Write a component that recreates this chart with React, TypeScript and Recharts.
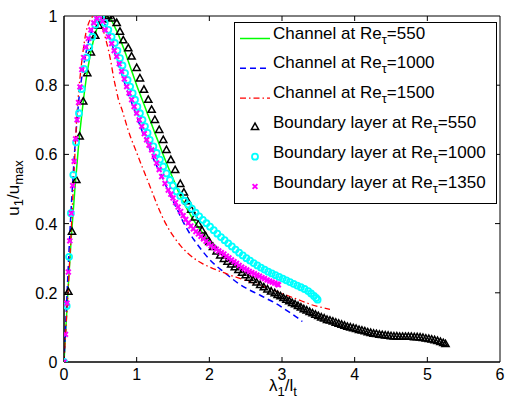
import React from 'react';
import {
  ComposedChart,
  Line,
  Scatter,
  XAxis,
  YAxis,
  ReferenceArea,
  Legend,
  Label,
} from 'recharts';

// MATLAB-ish look
const FONT = '"Liberation Sans", Arial, Helvetica, sans-serif';
const PLOT = { left: 64, right: 500, top: 16, bottom: 362 };

const xTicks = [0, 1, 2, 3, 4, 5, 6];
const xTickLabels = ['0', '1', '2', '3', '4', '5', '6'];
const yTicks = [0, 0.2, 0.4, 0.6, 0.8, 1];
const yTickLabels = ['0', '0.2', '0.4', '0.6', '0.8', '1'];

// channel flow curves (x = lambda1/lt, y = u1/umax)
const ch550: [number, number][] = [
  [0, 0], [0.05, 0.19], [0.1, 0.36], [0.15, 0.5], [0.2, 0.625], [0.25, 0.725], [0.3, 0.81],
  [0.35, 0.875], [0.4, 0.925], [0.45, 0.962], [0.5, 0.987], [0.55, 1.0], [0.6, 0.998],
  [0.65, 0.988], [0.7, 0.968], [0.75, 0.945], [0.8, 0.918], [0.85, 0.89], [0.9, 0.86],
  [0.95, 0.83], [1.0, 0.8], [1.05, 0.772], [1.1, 0.745], [1.15, 0.717], [1.2, 0.69],
  [1.25, 0.662], [1.3, 0.635], [1.35, 0.607], [1.4, 0.58], [1.5, 0.53], [1.6, 0.48],
  [1.7, 0.44], [1.8, 0.405], [1.9, 0.375], [2.0, 0.35], [2.1, 0.326], [2.2, 0.305],
  [2.3, 0.287], [2.4, 0.27],
];

const ch1000: [number, number][] = [
  [0, 0], [0.03, 0.14], [0.06, 0.28], [0.09, 0.41], [0.12, 0.52], [0.15, 0.62], [0.18, 0.7],
  [0.21, 0.77], [0.25, 0.83], [0.29, 0.88], [0.33, 0.92], [0.37, 0.95], [0.41, 0.975],
  [0.45, 0.99], [0.49, 1.0], [0.53, 0.993], [0.57, 0.972], [0.61, 0.948], [0.66, 0.918],
  [0.72, 0.878], [0.79, 0.835], [0.86, 0.79], [0.93, 0.75], [1.0, 0.71], [1.08, 0.665],
  [1.16, 0.627], [1.25, 0.578], [1.32, 0.548], [1.39, 0.515], [1.48, 0.474], [1.56, 0.44],
  [1.64, 0.405], [1.72, 0.375], [1.8, 0.35], [1.9, 0.322], [2.0, 0.297], [2.1, 0.277],
  [2.2, 0.26], [2.3, 0.243], [2.4, 0.227], [2.5, 0.214], [2.6, 0.203], [2.7, 0.193],
  [2.8, 0.182], [2.9, 0.171], [3.0, 0.158], [3.1, 0.144], [3.2, 0.13], [3.28, 0.117],
];

const ch1500: [number, number][] = [
  [0, 0], [0.03, 0.11], [0.06, 0.22], [0.09, 0.34], [0.12, 0.47], [0.15, 0.6], [0.18, 0.72],
  [0.21, 0.8], [0.24, 0.86], [0.27, 0.91], [0.3, 0.95], [0.34, 0.98], [0.38, 0.995],
  [0.42, 1.0], [0.46, 0.993], [0.5, 0.978], [0.54, 0.958], [0.58, 0.928], [0.61, 0.903],
  [0.65, 0.862], [0.68, 0.825], [0.72, 0.786], [0.75, 0.758], [0.8, 0.728], [0.84, 0.7],
  [0.88, 0.672], [0.93, 0.642], [0.98, 0.616], [1.02, 0.594], [1.07, 0.567], [1.11, 0.546],
  [1.16, 0.52], [1.21, 0.493], [1.3, 0.445], [1.4, 0.4], [1.5, 0.365], [1.6, 0.337],
  [1.7, 0.315], [1.8, 0.298], [1.9, 0.285], [2.0, 0.275], [2.1, 0.266], [2.2, 0.258],
  [2.3, 0.25], [2.4, 0.243], [2.5, 0.236], [2.6, 0.229], [2.7, 0.222], [2.8, 0.214],
  [2.9, 0.206], [3.0, 0.198], [3.1, 0.19], [3.2, 0.182], [3.3, 0.174], [3.4, 0.166],
  [3.5, 0.16], [3.6, 0.155], [3.66, 0.152],
];

// boundary layer data (markers)
const bl550: [number, number][] = [
  [0, 0], [0.06, 0.203], [0.11, 0.377], [0.17, 0.526], [0.215, 0.652], [0.265, 0.753],
  [0.32, 0.835], [0.37, 0.895], [0.43, 0.943], [0.48, 0.972], [0.53, 0.99], [0.57, 1.0],
  [0.61, 1.0], [0.66, 0.993], [0.725, 0.98], [0.77, 0.955], [0.816, 0.93], [0.885, 0.907],
  [0.93, 0.883], [1.0, 0.85], [1.045, 0.82], [1.1, 0.787], [1.16, 0.758], [1.206, 0.729],
  [1.25, 0.7], [1.31, 0.671], [1.366, 0.642], [1.41, 0.613], [1.47, 0.584], [1.53, 0.555],
  [1.6, 0.515], [1.65, 0.49], [1.7, 0.465], [1.75, 0.44], [1.8, 0.418], [1.85, 0.398],
  [1.9, 0.38], [1.95, 0.363], [2.0, 0.347], [2.05, 0.333], [2.1, 0.32], [2.15, 0.308],
  [2.2, 0.298], [2.25, 0.29], [2.3, 0.282], [2.35, 0.274], [2.4, 0.266], [2.45, 0.258],
  [2.5, 0.251], [2.55, 0.244], [2.6, 0.237], [2.65, 0.23], [2.7, 0.223], [2.75, 0.216],
  [2.8, 0.21], [2.85, 0.204], [2.9, 0.199], [2.94, 0.194], [2.98, 0.19], [3.02, 0.185],
  [3.06, 0.18], [3.1, 0.176], [3.14, 0.171], [3.18, 0.167], [3.22, 0.162], [3.26, 0.158],
  [3.3, 0.153], [3.34, 0.149], [3.38, 0.145], [3.42, 0.141], [3.46, 0.137], [3.5, 0.133],
  [3.54, 0.129], [3.58, 0.126], [3.62, 0.122], [3.66, 0.12], [3.7, 0.117], [3.74, 0.114],
  [3.78, 0.111], [3.82, 0.108], [3.86, 0.105], [3.9, 0.102], [3.94, 0.1], [3.98, 0.098],
  [4.02, 0.096], [4.06, 0.093], [4.1, 0.091], [4.14, 0.089], [4.18, 0.086], [4.22, 0.084],
  [4.26, 0.082], [4.3, 0.081], [4.34, 0.079], [4.38, 0.078], [4.42, 0.077], [4.46, 0.076],
  [4.5, 0.075], [4.54, 0.074], [4.58, 0.074], [4.62, 0.073], [4.66, 0.073], [4.7, 0.073],
  [4.74, 0.073], [4.78, 0.073], [4.82, 0.072], [4.86, 0.072], [4.9, 0.071], [4.94, 0.07],
  [4.98, 0.068], [5.02, 0.067], [5.06, 0.065], [5.1, 0.063], [5.14, 0.061], [5.18, 0.058],
  [5.22, 0.055], [5.25, 0.052],
];

const bl1000: [number, number][] = [
  [0, 0], [0.037, 0.162], [0.07, 0.304], [0.095, 0.43], [0.128, 0.541], [0.165, 0.635],
  [0.206, 0.719], [0.243, 0.789], [0.275, 0.847], [0.31, 0.88], [0.348, 0.91], [0.39, 0.94],
  [0.43, 0.975], [0.47, 0.997], [0.51, 0.995], [0.56, 0.98], [0.61, 0.96], [0.655, 0.94],
  [0.7, 0.922], [0.735, 0.9], [0.77, 0.878], [0.805, 0.857], [0.84, 0.835], [0.875, 0.815],
  [0.91, 0.796], [0.945, 0.777], [0.977, 0.758], [1.01, 0.738], [1.045, 0.719], [1.08, 0.7],
  [1.114, 0.681], [1.15, 0.662], [1.18, 0.642], [1.23, 0.623], [1.275, 0.604], [1.32, 0.585],
  [1.366, 0.565], [1.41, 0.545], [1.458, 0.526], [1.5, 0.51], [1.55, 0.493], [1.6, 0.48],
  [1.66, 0.466], [1.71, 0.455], [1.76, 0.443], [1.81, 0.432], [1.86, 0.421], [1.91, 0.411],
  [1.96, 0.401], [2.01, 0.391], [2.06, 0.381], [2.11, 0.371], [2.16, 0.361], [2.21, 0.352],
  [2.26, 0.343], [2.31, 0.334], [2.36, 0.325], [2.41, 0.316], [2.46, 0.308], [2.51, 0.3],
  [2.56, 0.293], [2.61, 0.286], [2.66, 0.279], [2.71, 0.273], [2.76, 0.267], [2.81, 0.261],
  [2.86, 0.256], [2.91, 0.251], [2.96, 0.246], [3.01, 0.241], [3.06, 0.236], [3.11, 0.231],
  [3.16, 0.226], [3.21, 0.221], [3.26, 0.216], [3.31, 0.211], [3.36, 0.205], [3.4, 0.198],
  [3.44, 0.191], [3.47, 0.185], [3.49, 0.18],
];

const bl1350: [number, number][] = [
  [0, 0], [0.02, 0.08], [0.04, 0.17], [0.06, 0.26], [0.08, 0.35], [0.1, 0.43], [0.12, 0.51],
  [0.14, 0.58], [0.16, 0.645], [0.18, 0.7], [0.2, 0.75], [0.22, 0.795], [0.245, 0.845],
  [0.27, 0.88], [0.3, 0.91], [0.335, 0.935], [0.37, 0.96], [0.41, 0.98], [0.45, 0.993],
  [0.49, 1.0], [0.53, 0.985], [0.565, 0.96], [0.61, 0.94], [0.656, 0.92], [0.69, 0.9],
  [0.725, 0.883], [0.76, 0.862], [0.793, 0.84], [0.83, 0.818], [0.862, 0.796], [0.895, 0.777],
  [0.93, 0.758], [0.965, 0.738], [1.0, 0.719], [1.035, 0.7], [1.07, 0.681], [1.105, 0.66],
  [1.137, 0.642], [1.17, 0.627], [1.206, 0.613], [1.24, 0.594], [1.275, 0.575], [1.31, 0.556],
  [1.344, 0.536], [1.39, 0.516], [1.435, 0.497], [1.47, 0.485], [1.5, 0.474], [1.535, 0.461],
  [1.57, 0.448], [1.605, 0.435], [1.64, 0.423], [1.675, 0.412], [1.71, 0.402], [1.745, 0.393],
  [1.78, 0.385], [1.815, 0.377], [1.85, 0.37], [1.885, 0.363], [1.92, 0.356], [1.955, 0.349],
  [1.99, 0.342], [2.025, 0.336], [2.06, 0.331], [2.095, 0.326], [2.13, 0.321], [2.165, 0.316],
  [2.2, 0.312], [2.235, 0.306], [2.27, 0.301], [2.305, 0.295], [2.34, 0.29], [2.375, 0.285],
  [2.41, 0.279], [2.445, 0.274], [2.48, 0.27], [2.515, 0.266], [2.55, 0.262], [2.585, 0.258],
  [2.62, 0.255], [2.655, 0.251], [2.69, 0.248], [2.725, 0.244], [2.76, 0.241], [2.795, 0.237],
  [2.83, 0.234], [2.865, 0.231], [2.9, 0.228], [2.935, 0.225], [2.95, 0.223],
];

const legendNames = ['Channel at Re', 'Channel at Re', 'Channel at Re',
  'Boundary layer at Re', 'Boundary layer at Re', 'Boundary layer at Re'];
const legendRe = ['=550', '=1000', '=1500', '=550', '=1000', '=1350'];

const C = {
  green: '#00ff00',
  blue: '#0000ff',
  red: '#ff0000',
  black: '#000000',
  cyan: '#00ffff',
  magenta: '#ff00ff',
};

const pts = (arr: [number, number][]) => arr.map(([x, y]) => ({ x, y }));

const Triangle = (p: any) => {
  const { cx, cy } = p;
  if (cx == null || cy == null) return null;
  return (
    <polygon
      points={`${cx},${cy - 3.8} ${cx - 3.6},${cy + 2.6} ${cx + 3.6},${cy + 2.6}`}
      fill="none"
      stroke={C.black}
      strokeWidth={1.5}
    />
  );
};

const Ring = (p: any) => {
  const { cx, cy } = p;
  if (cx == null || cy == null) return null;
  return <circle cx={cx} cy={cy} r={3} fill="none" stroke={C.cyan} strokeWidth={1.8} />;
};

const Cross = (p: any) => {
  const { cx, cy } = p;
  if (cx == null || cy == null) return null;
  const s = 2.4;
  return (
    <g stroke={C.magenta} strokeWidth={2}>
      <line x1={cx - s} y1={cy - s} x2={cx + s} y2={cy + s} />
      <line x1={cx - s} y1={cy + s} x2={cx + s} y2={cy - s} />
    </g>
  );
};

const XTick = (props: any) => {
  const { x, payload, index } = props;
  const v = payload.value;
  const inner = v !== 0 && v !== 6;
  return (
    <g>
      {inner && <line x1={x} x2={x} y1={PLOT.bottom} y2={PLOT.bottom - 5} stroke="#000" />}
      {inner && <line x1={x} x2={x} y1={PLOT.top} y2={PLOT.top + 5} stroke="#000" />}
      <text x={x} y={380} textAnchor="middle" fontSize={16} fontFamily={FONT} fill="#000">
        {xTickLabels[index] ?? String(v)}
      </text>
    </g>
  );
};

const YTick = (props: any) => {
  const { y, payload, index } = props;
  const v = payload.value;
  const inner = v !== 0 && v !== 1;
  return (
    <g>
      {inner && <line x1={PLOT.left} x2={PLOT.left + 5} y1={y} y2={y} stroke="#000" />}
      {inner && <line x1={PLOT.right} x2={PLOT.right - 5} y1={y} y2={y} stroke="#000" />}
      <text x={57.5} y={y + 6} textAnchor="end" fontSize={16} fontFamily={FONT} fill="#000">
        {yTickLabels[index] ?? String(v)}
      </text>
    </g>
  );
};

const LegendBox = () => {
  const rowY = [16.5, 46.3, 76.1, 105.9, 135.7, 165.5];
  const swatch = (i: number, y: number) => {
    if (i === 0) return <line x1={6} x2={36} y1={y} y2={y} stroke={C.green} strokeWidth={1.5} />;
    if (i === 1)
      return <line x1={6} x2={36} y1={y} y2={y} stroke={C.blue} strokeWidth={1.5} strokeDasharray="6 4" />;
    if (i === 2)
      return <line x1={6} x2={36} y1={y} y2={y} stroke={C.red} strokeWidth={1.3} strokeDasharray="6 3 1.5 3" />;
    if (i === 3) return <Triangle cx={21} cy={y - 1} />;
    if (i === 4) return <Ring cx={21} cy={y - 1} />;
    return <Cross cx={21} cy={y - 1} />;
  };
  return (
    <svg width={263} height={182} style={{ display: 'block' }}>
      <rect x={0.5} y={0.5} width={262} height={181} fill="#fff" stroke="#000" />
      {legendNames.map((name, i) => (
        <g key={i}>
          {swatch(i, rowY[i])}
          <text x={39} y={rowY[i]} fontSize={17} fontFamily={FONT} fill="#000">
            {name}
            <tspan dy={5} fontSize={13}>τ</tspan>
            <tspan dy={-5}>{legendRe[i]}</tspan>
          </text>
        </g>
      ))}
    </svg>
  );
};

export default function App() {
  return (
    <div style={{ position: 'absolute', left: 0, top: 0, width: 507, height: 404, background: '#fff' }}>
      <ComposedChart
        width={507}
        height={404}
        margin={{ top: PLOT.top, right: 507 - PLOT.right, bottom: 22, left: 20 }}
      >
        <XAxis
          type="number"
          dataKey="x"
          domain={[0, 6]}
          ticks={xTicks}
          allowDataOverflow
          height={20}
          tickLine={false}
          axisLine={{ stroke: '#000' }}
          tick={<XTick />}
          interval={0}
        >
          <Label
            content={() => (
              <text x={283} y={391} textAnchor="middle" fontSize={17} fontFamily={FONT} fill="#000">
                λ<tspan dy={5} fontSize={13}>1</tspan>
                <tspan dy={-5}>/l</tspan>
                <tspan dy={5} fontSize={13}>t</tspan>
              </text>
            )}
          />
        </XAxis>
        <YAxis
          type="number"
          dataKey="y"
          domain={[0, 1]}
          ticks={yTicks}
          allowDataOverflow
          width={44}
          tickLine={false}
          axisLine={{ stroke: '#000' }}
          tick={<YTick />}
          interval={0}
        >
          <Label
            content={() => (
              <text
                x={19}
                y={188}
                transform="rotate(-90 19 188)"
                textAnchor="middle"
                fontSize={17}
                fontFamily={FONT}
                fill="#000"
              >
                u<tspan dy={4} fontSize={13}>1</tspan>
                <tspan dy={-4}>/u</tspan>
                <tspan dy={4} fontSize={13}>max</tspan>
              </text>
            )}
          />
        </YAxis>
        <ReferenceArea x1={0} x2={6} y1={0} y2={1} fill="none" stroke="#000" strokeWidth={1} />

        <Line
          data={pts(ch550)}
          dataKey="y"
          type="monotone"
          stroke={C.green}
          strokeWidth={1.5}
          dot={false}
          activeDot={false}
          isAnimationActive={false}
        />
        <Line
          data={pts(ch1000)}
          dataKey="y"
          type="monotone"
          stroke={C.blue}
          strokeWidth={1.5}
          strokeDasharray="6 4"
          dot={false}
          activeDot={false}
          isAnimationActive={false}
        />
        <Line
          data={pts(ch1500)}
          dataKey="y"
          type="monotone"
          stroke={C.red}
          strokeWidth={1.3}
          strokeDasharray="6 3 1.5 3"
          dot={false}
          activeDot={false}
          isAnimationActive={false}
        />
        <Scatter data={pts(bl550)} shape={Triangle} isAnimationActive={false} />
        <Scatter data={pts(bl1000)} shape={Ring} isAnimationActive={false} />
        <Scatter data={pts(bl1350)} shape={Cross} isAnimationActive={false} />

        <Legend
          layout="vertical"
          align="center"
          verticalAlign="middle"
          content={() => <LegendBox />}
          wrapperStyle={{ position: 'absolute', left: 234, top: 22, width: 263, height: 182 }}
        />
      </ComposedChart>
    </div>
  );
}
